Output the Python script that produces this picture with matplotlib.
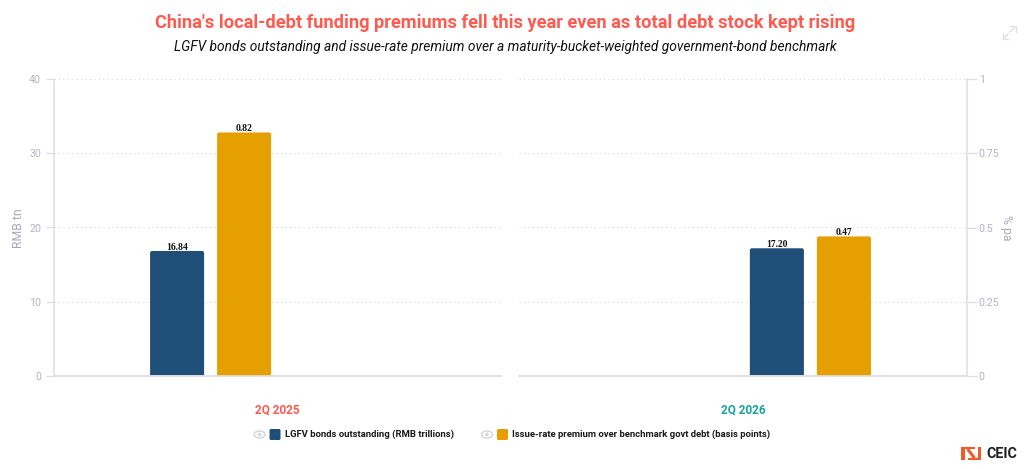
import matplotlib
matplotlib.use('Agg')
import matplotlib.pyplot as plt
from matplotlib.patches import Ellipse, Circle, FancyBboxPatch, Rectangle

plt.rcParams['font.family'] = ['Roboto', 'DejaVu Sans']

# data
quarters = ['2Q 2025', '2Q 2026']
quarter_colors = ['#ff5a50', '#17a2a2']
lgfv_bonds = [16.84, 17.20]
premium = [0.82, 0.47]
lgfv_labels = ['16.84', '17.20']
premium_labels = ['0.82', '0.47']
left_ticks = [0, 10, 20, 30, 40]
left_ticklabels = ['0', '10', '20', '30', '40']
right_ticks = [0, 0.25, 0.5, 0.75, 1]
right_ticklabels = ['0', '0.25', '0.5', '0.75', '1']
series_names = ['LGFV bonds outstanding (RMB trillions)',
                'Issue-rate premium over benchmark govt debt (basis points)']
title = "China's local-debt funding premiums fell this year even as total debt stock kept rising"
subtitle = 'LGFV bonds outstanding and issue-rate premium over a maturity-bucket-weighted government-bond benchmark'

BLUE = '#1f4e79'
GOLD = '#e69f00'
TICK = '#b4b4c8'
AXIS = '#dcdce6'
W, H = 1024, 469
PANEL_H = 297.0
SLOT_PX = 67.0


def px_axes(x0, x1, top, bottom):
    return fig.add_axes([x0 / W, 1 - bottom / H, (x1 - x0) / W, (bottom - top) / H])


def rounded_bar(ax, x, value, color, ymax):
    # ax.bar has no corner radius, so swap the rectangle for a rounded box
    bar = ax.bar(x, value, width=0.806, color=color)[0]
    bar.remove()
    y_px = ymax / PANEL_H
    x_px = 1 / SLOT_PX
    below = 4 * y_px
    box = FancyBboxPatch((bar.get_x(), -below), bar.get_width(), value + below,
                         boxstyle='round,pad=0,rounding_size=%f' % (2 * x_px),
                         mutation_aspect=y_px / x_px, facecolor=color, edgecolor='none')
    ax.add_patch(box)


def bar_label(ax, x, value, text):
    ax.annotate(text, (x, value), xytext=(0, 0.7), textcoords='offset points', ha='center',
                va='baseline', family='Liberation Serif', weight='bold', fontsize=6.9,
                color='#111111')


fig = plt.figure(figsize=(W / 100, H / 100), dpi=100, facecolor='white')

# each panel has room for 4 bar slots, only two of them are filled
panels = [(53.5, 501, [-1.5, -0.5]), (519, 967, [0.5, 1.5])]

for i, (x0, x1, slots) in enumerate(panels):
    ax = px_axes(x0, x1, 79, 376)
    ax.set_xlim(-3.345, 3.335)
    ax.set_ylim(0, 40)
    ax.set_xticks([])
    ax.set_yticks(left_ticks)
    ax.yaxis.grid(True, color='#d4d4dc', linestyle=(0, (1, 3)), linewidth=0.8)
    ax.set_axisbelow(True)
    rounded_bar(ax, slots[0], lgfv_bonds[i], BLUE, 40)
    bar_label(ax, slots[0], lgfv_bonds[i], lgfv_labels[i])

    ax2 = ax.twinx()
    ax2.set_ylim(0, 1)
    ax2.set_yticks(right_ticks)
    rounded_bar(ax2, slots[1], premium[i], GOLD, 1)
    bar_label(ax2, slots[1], premium[i], premium_labels[i])

    for a in (ax, ax2):
        for s in ('top', 'left', 'right'):
            a.spines[s].set_visible(False)
        a.spines['bottom'].set_color('#e0e0e4')
        a.spines['bottom'].set_linewidth(1.2)
        a.tick_params(axis='y', left=False, right=False, labelleft=False, labelright=False)

    if i == 0:
        ax.spines['left'].set_visible(True)
        ax.spines['left'].set_color(AXIS)
        ax.spines['left'].set_linewidth(1.1)
        ax.tick_params(axis='y', left=True, labelleft=True, length=6, width=0.9,
                       color=AXIS, labelcolor=TICK, labelsize=7.7, pad=3)
        ax.set_yticklabels(left_ticklabels)
    else:
        ax2.spines['right'].set_visible(True)
        ax2.spines['right'].set_color(AXIS)
        ax2.spines['right'].set_linewidth(1.1)
        ax2.tick_params(axis='y', right=True, labelright=True, length=7, width=0.9,
                        color=AXIS, labelcolor=TICK, labelsize=7.7, pad=1.5)
        ax2.set_yticklabels(right_ticklabels)

# overlay in pixel coordinates for the texts and icons
ov = fig.add_axes([0, 0, 1, 1], zorder=5)
ov.set_xlim(0, W)
ov.set_ylim(H, 0)
ov.axis('off')
ov.patch.set_alpha(0)

ov.text(505, 22.5, title, ha='center', va='center', color='#ff5a50', fontsize=13.17, weight='bold')
ov.text(505, 47.5, subtitle, ha='center', va='center', color='#111111', fontsize=9.95, style='italic')

ov.text(18.5, 228, 'RMB tn', rotation=90, ha='center', va='center', color='#a8a8ba', fontsize=8.8)
ov.text(1006, 228, '% pa', rotation=270, ha='center', va='center', color='#a8a8ba', fontsize=8.8)

ov.text(277, 410, quarters[0], ha='center', va='center', color=quarter_colors[0], fontsize=8.5, weight='bold')
ov.text(743, 410, quarters[1], ha='center', va='center', color=quarter_colors[1], fontsize=8.5, weight='bold')

# legend
for eye_x, sw_x, txt_x, c, name in [(259.5, 269.5, 285, BLUE, series_names[0]),
                                    (487, 497, 512, GOLD, series_names[1])]:
    ov.add_patch(Ellipse((eye_x, 434.5), 11, 7, fill=False, edgecolor='#d4d4de', linewidth=1.0))
    ov.add_patch(Circle((eye_x, 434.5), 1.8, color='#d4d4de', linewidth=0))
    ov.add_patch(FancyBboxPatch((sw_x + 1, 430), 9, 9, boxstyle='round,pad=1,rounding_size=1.5',
                                facecolor=c, edgecolor='none'))
    ov.text(txt_x, 434.5, name, ha='left', va='center', color='#1a1a1a', fontsize=6.82, weight='bold')

# expand icon
ov.plot([1003, 1008], [39, 34], color='#e0e0e8', linewidth=1.0)
ov.plot([1010, 1015], [32, 27], color='#e0e0e8', linewidth=1.0)
ov.plot([1003, 1003, 1008], [34, 39.5, 39.5], color='#e0e0e8', linewidth=1.0)
ov.plot([1010, 1015.5, 1015.5], [26.5, 26.5, 32], color='#e0e0e8', linewidth=1.0)

# CEIC logo
LOGO = '#f15a29'
ov.add_patch(Rectangle((961, 447), 3.5, 13, color=LOGO, linewidth=0))
ov.add_patch(Rectangle((977.5, 447), 3.5, 13, color=LOGO, linewidth=0))
ov.plot([964, 974.5], [448.2, 448.2], color=LOGO, linewidth=1.5, solid_capstyle='butt')
ov.plot([967.5, 978], [458.8, 458.8], color=LOGO, linewidth=1.5, solid_capstyle='butt')
ov.plot([967.5, 974.5], [449, 458], color=LOGO, linewidth=2.2, solid_capstyle='butt')
ov.text(986, 453.5, 'CEIC', ha='left', va='center', color='#222222', fontsize=10.3, weight='bold')

fig.savefig('out.png', dpi=100)
